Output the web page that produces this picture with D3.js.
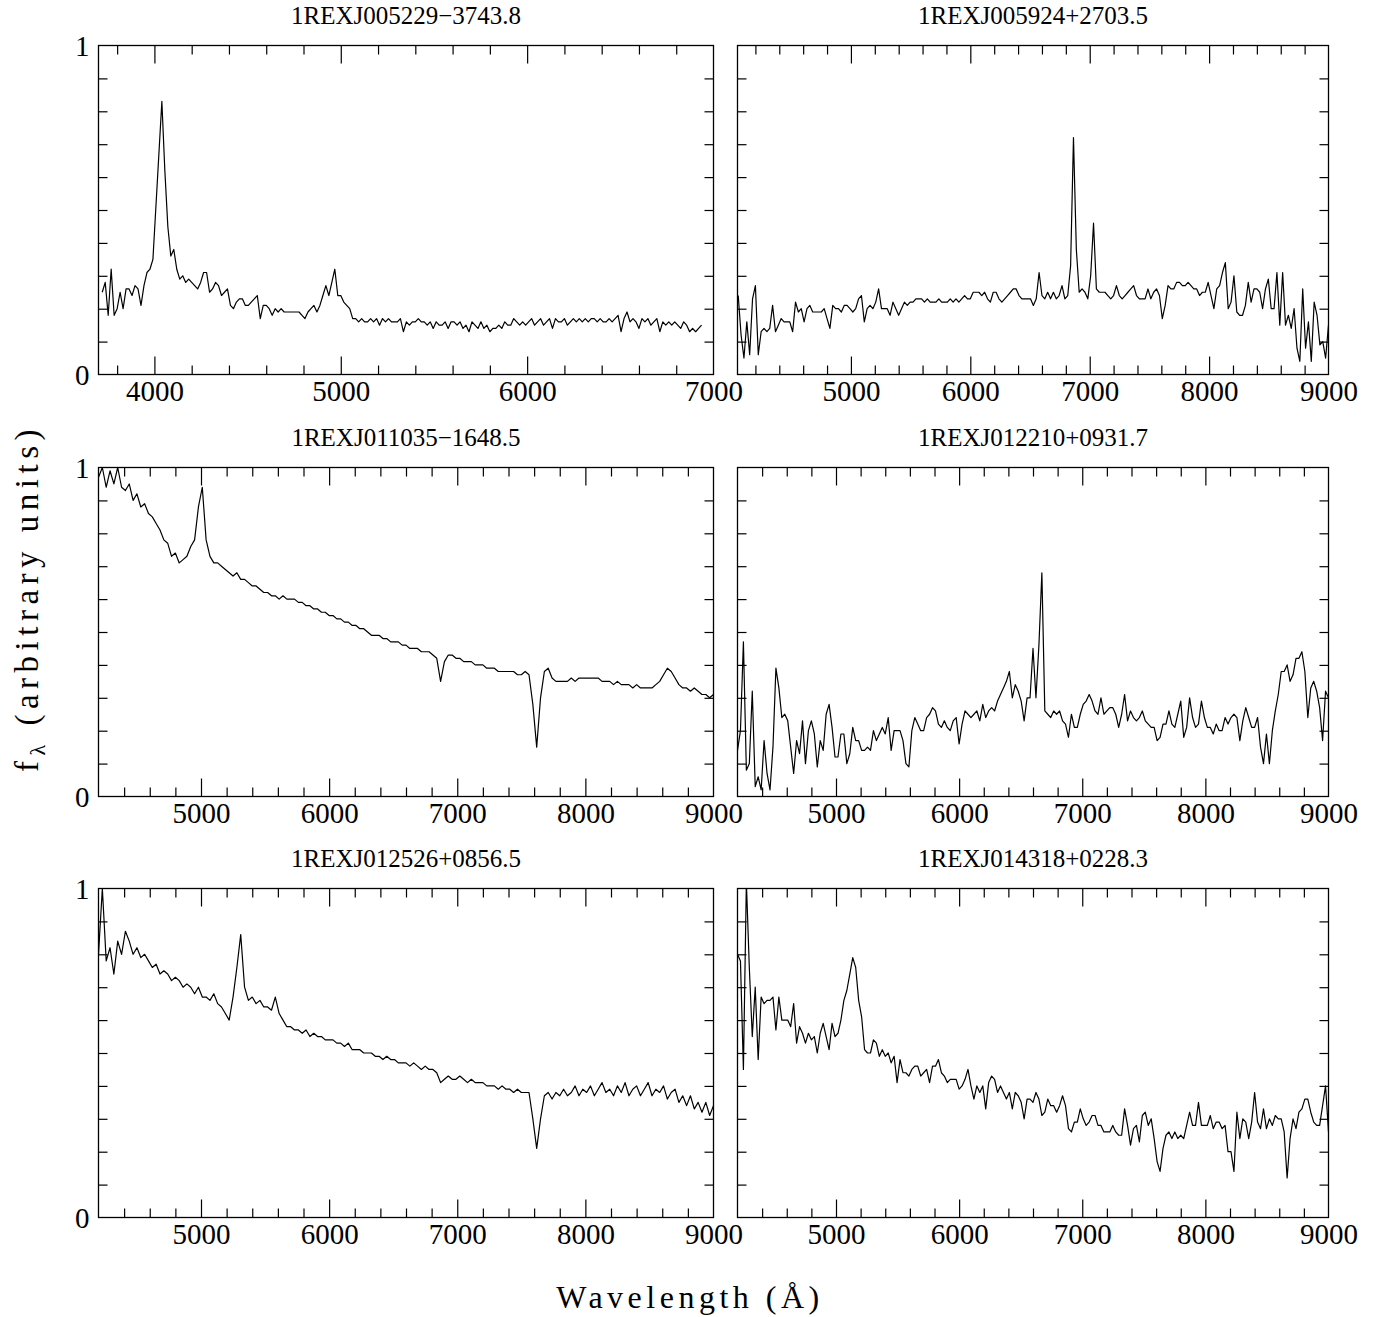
<!DOCTYPE html>
<html lang="en">
<head>
<meta charset="utf-8">
<title>1REX spectra</title>
<style>
  body { margin: 0; background: #fff; }
  svg text { font-family: "Liberation Serif", "DejaVu Serif", serif; fill: #000; }
</style>
</head>
<body>
<svg width="1390" height="1317"></svg>
<script src="https://cdn.jsdelivr.net/npm/d3@7/dist/d3.min.js"></script>
<script>
// panel titles (source names)
const titles = [
  '1REXJ005229\u22123743.8', '1REXJ005924+2703.5',
  '1REXJ011035\u22121648.5', '1REXJ012210+0931.7',
  '1REXJ012526+0856.5', '1REXJ014318+0228.3'
];
// wavelength range of each panel (Angstrom)
const x_domains = [[3700, 7000], [4050, 9000], [4200, 9000], [4200, 9000], [4200, 9000], [4200, 9000]];
const x_labels = [
  [4000, 5000, 6000, 7000], [5000, 6000, 7000, 8000, 9000],
  [5000, 6000, 7000, 8000, 9000], [5000, 6000, 7000, 8000, 9000],
  [5000, 6000, 7000, 8000, 9000], [5000, 6000, 7000, 8000, 9000]
];
const y_labels = [0, 1];
// first wavelength and sampling step of each spectrum
const wave_start = [3720, 4056, 4200, 4200, 4200, 4200];
const wave_step = [16, 24, 30, 24, 30, 24];

// normalised flux
const flux_1 = [
  0.25,0.28,0.18,0.32,0.18,0.20,0.25,0.20,0.26,0.26,0.24,0.27,0.26,0.21,0.27,0.31,0.32,0.35,0.51,0.67,
  0.83,0.62,0.45,0.36,0.38,0.32,0.29,0.30,0.28,0.29,0.28,0.27,0.26,0.28,0.31,0.31,0.25,0.26,0.28,0.27,
  0.24,0.25,0.26,0.21,0.20,0.22,0.23,0.23,0.21,0.21,0.22,0.23,0.24,0.17,0.21,0.21,0.20,0.18,0.20,0.19,
  0.20,0.19,0.19,0.19,0.19,0.19,0.19,0.18,0.17,0.19,0.20,0.21,0.19,0.21,0.24,0.27,0.24,0.28,0.32,0.24,
  0.24,0.22,0.21,0.20,0.17,
  0.17,0.16,0.17,0.16,0.16,0.17,
  0.16,0.17,0.15,0.17,0.16,0.17,0.16,0.16,
  0.16,0.17,0.13,0.16,0.15,0.16,0.16,0.17,0.16,
  0.16,0.15,0.16,0.14,0.16,0.15,0.15,0.16,0.14,0.16,
  0.16,0.15,0.16,0.14,0.15,0.13,0.16,0.15,0.14,0.16,0.14,0.15,0.13,0.14,
  0.14,0.15,0.14,0.16,0.15,0.15,0.17,0.16,0.15,0.16,0.15,0.16,0.17,0.15,
  0.16,0.17,0.15,0.16,0.17,0.14,0.17,0.16,0.16,0.17,0.15,0.16,0.17,0.16,
  0.17,0.16,0.17,0.16,0.17,0.17,0.16,0.17,0.16,0.16,0.17,0.16,0.17,
  0.18,0.13,0.17,0.19,0.16,0.17,0.16,0.14,0.17,0.16,0.17,0.15,0.16,
  0.17,0.13,0.16,0.15,0.16,0.15,0.16,0.15,0.14,0.16,0.15,0.13,0.14,0.13,0.14,0.15
];
const flux_2 = [
  0.24,0.12,0.05,0.16,0.06,0.23,0.27,0.06,0.13,0.14,
  0.13,0.14,0.21,0.13,0.15,0.17,0.16,0.16,0.16,0.13,
  0.22,0.19,0.20,0.16,0.20,0.21,0.19,0.19,0.19,0.19,
  0.20,0.17,0.14,0.21,0.20,0.20,0.19,0.21,0.21,0.20,
  0.19,0.20,0.23,0.24,0.16,0.20,0.21,0.20,0.22,0.26,
  0.20,0.20,0.20,0.18,0.22,0.20,0.18,0.20,0.22,0.21,
  0.22,0.22,0.23,0.23,0.23,0.22,0.23,0.22,0.22,0.22,
  0.23,0.22,0.22,0.22,0.23,0.22,0.23,0.22,0.23,0.24,
  0.23,0.23,0.25,0.25,0.25,0.24,0.25,0.23,0.22,0.25,
  0.25,0.23,0.22,0.23,0.24,0.25,0.26,0.26,0.24,0.23,
  0.23,0.23,0.23,0.21,0.23,0.31,0.24,0.23,0.25,0.23,
  0.25,0.23,0.24,0.27,0.23,0.24,0.33,0.72,0.38,0.25,
  0.26,0.25,0.23,0.30,0.46,0.26,0.25,0.25,0.25,0.24,
  0.23,0.24,0.27,0.24,0.23,0.24,0.25,0.26,0.27,0.24,
  0.23,0.23,0.23,0.26,0.23,0.25,0.26,0.24,0.17,0.21,
  0.27,0.26,0.26,0.28,0.28,0.27,0.27,0.28,0.27,0.26,
  0.26,0.24,0.25,0.25,0.28,0.24,0.20,0.26,0.27,0.31,
  0.34,0.20,0.22,0.30,0.19,0.18,0.18,0.21,0.28,0.22,
  0.26,0.26,0.25,0.20,0.26,0.29,0.20,0.20,0.31,0.15,
  0.31,0.15,0.18,0.14,0.20,0.08,0.04,0.26,0.08,0.16,
  0.04,0.22,0.18,0.09,0.10,0.05,0.15
];
const flux_3 = [
  0.97,1.00,0.94,0.99,0.95,1.00,0.94,0.93,0.95,0.90,
  0.92,0.88,0.89,0.86,0.85,0.83,0.81,0.78,0.77,0.73,
  0.74,0.71,0.72,0.73,0.76,0.78,0.88,0.94,0.78,0.73,
  0.71,0.71,0.70,0.69,0.68,0.67,0.68,0.66,0.66,0.65,
  0.64,0.64,0.63,0.62,0.62,0.61,0.61,0.60,0.61,0.60,
  0.60,0.60,0.59,0.59,0.58,0.58,0.57,0.57,0.56,0.56,
  0.55,0.55,0.54,0.54,0.53,0.53,0.52,0.52,0.51,0.51,
  0.50,0.49,0.49,0.49,0.48,0.48,0.47,0.47,0.47,0.46,
  0.46,0.45,0.45,0.45,0.44,0.44,0.44,0.43,0.42,0.35,
  0.41,0.43,0.43,0.42,0.42,0.41,0.41,0.41,0.40,0.40,
  0.40,0.39,0.39,0.39,0.38,0.38,0.38,0.38,0.38,0.37,
  0.37,0.38,0.37,0.28,0.15,0.30,0.38,0.39,0.36,0.35,
  0.35,0.35,0.35,0.36,0.35,0.36,0.36,0.36,0.36,0.36,
  0.36,0.35,0.35,0.35,0.34,0.35,0.34,0.34,0.34,0.33,
  0.34,0.33,0.33,0.33,0.33,0.34,0.35,0.37,0.39,0.38,
  0.36,0.34,0.33,0.33,0.32,0.33,0.32,0.31,0.31,0.30,
  0.31
];
const flux_4 = [
  0.14,0.20,0.47,0.08,0.10,0.32,0.03,0.06,0.02,0.17,
  0.07,0.02,0.15,0.39,0.33,0.24,0.25,0.23,0.15,0.07,
  0.17,0.13,0.23,0.10,0.20,0.23,0.19,0.09,0.17,0.14,
  0.25,0.28,0.21,0.12,0.12,0.19,0.19,0.10,0.13,0.21,
  0.17,0.17,0.14,0.14,0.15,0.14,0.20,0.17,0.19,0.21,
  0.19,0.24,0.14,0.20,0.20,0.20,0.17,0.10,0.09,0.20,
  0.24,0.22,0.20,0.20,0.24,0.25,0.27,0.26,0.22,0.21,
  0.23,0.21,0.20,0.23,0.24,0.16,0.22,0.26,0.25,0.24,
  0.25,0.26,0.23,0.28,0.24,0.26,0.27,0.26,0.29,0.31,
  0.33,0.35,0.38,0.30,0.34,0.32,0.29,0.23,0.30,0.30,
  0.45,0.30,0.46,0.68,0.26,0.25,0.24,0.26,0.25,0.26,
  0.23,0.22,0.18,0.25,0.21,0.21,0.25,0.28,0.29,0.31,
  0.29,0.26,0.25,0.30,0.25,0.26,0.27,0.27,0.25,0.21,
  0.25,0.31,0.23,0.26,0.24,0.23,0.24,0.26,0.23,0.22,
  0.21,0.21,0.17,0.18,0.22,0.22,0.26,0.22,0.21,0.25,
  0.29,0.18,0.21,0.30,0.24,0.21,0.22,0.29,0.24,0.21,
  0.21,0.19,0.22,0.20,0.20,0.24,0.22,0.24,0.25,0.24,
  0.17,0.23,0.27,0.24,0.21,0.21,0.24,0.15,0.10,0.19,
  0.10,0.20,0.26,0.31,0.38,0.38,0.40,0.35,0.37,0.42,
  0.42,0.44,0.38,0.24,0.33,0.35,0.32,0.27,0.17,0.32,
  0.30
];
const flux_5 = [
  0.80,1.00,0.78,0.82,0.74,0.84,0.80,0.87,0.84,0.80,
  0.82,0.79,0.80,0.78,0.76,0.77,0.74,0.75,0.74,0.72,
  0.73,0.72,0.70,0.71,0.70,0.68,0.70,0.67,0.67,0.66,
  0.68,0.65,0.64,0.62,0.60,0.67,0.76,0.86,0.70,0.66,
  0.67,0.65,0.66,0.64,0.64,0.63,0.67,0.62,0.60,0.58,
  0.58,0.57,0.57,0.56,0.57,0.55,0.56,0.55,0.55,0.54,
  0.54,0.54,0.53,0.53,0.52,0.53,0.51,0.51,0.51,0.50,
  0.50,0.50,0.49,0.49,0.48,0.49,0.48,0.48,0.47,0.47,
  0.47,0.46,0.47,0.46,0.45,0.46,0.45,0.45,0.44,0.41,
  0.42,0.43,0.42,0.42,0.43,0.42,0.41,0.42,0.41,0.41,
  0.41,0.40,0.40,0.40,0.39,0.40,0.39,0.39,0.38,0.39,
  0.38,0.38,0.38,0.30,0.21,0.30,0.37,0.38,0.36,0.38,
  0.37,0.39,0.37,0.38,0.40,0.37,0.39,0.38,0.40,0.37,
  0.39,0.41,0.38,0.39,0.37,0.40,0.38,0.41,0.37,0.39,
  0.40,0.37,0.39,0.41,0.37,0.39,0.38,0.40,0.36,0.38,
  0.39,0.35,0.37,0.34,0.37,0.33,0.35,0.32,0.35,0.31,
  0.34
];
const flux_6 = [
  0.80,0.78,0.45,1.02,0.76,0.55,0.70,0.48,0.67,0.65,
  0.66,0.66,0.67,0.57,0.67,0.60,0.60,0.60,0.58,0.65,
  0.53,0.58,0.56,0.53,0.56,0.54,0.55,0.50,0.56,0.59,
  0.55,0.51,0.59,0.55,0.56,0.60,0.66,0.69,0.74,0.79,
  0.76,0.66,0.61,0.51,0.50,0.50,0.54,0.53,0.49,0.51,
  0.49,0.50,0.47,0.49,0.41,0.48,0.44,0.44,0.43,0.45,
  0.46,0.46,0.43,0.44,0.45,0.41,0.46,0.46,0.48,0.44,
  0.43,0.41,0.42,0.42,0.42,0.39,0.40,0.42,0.45,0.40,
  0.36,0.40,0.38,0.40,0.33,0.41,0.43,0.42,0.38,0.40,
  0.38,0.36,0.38,0.33,0.38,0.37,0.35,0.30,0.36,0.36,
  0.35,0.38,0.36,0.31,0.32,0.36,0.34,0.34,0.32,0.34,
  0.37,0.34,0.27,0.26,0.29,0.29,0.33,0.30,0.28,0.29,
  0.31,0.31,0.28,0.28,0.26,0.26,0.26,0.28,0.26,0.25,
  0.25,0.33,0.28,0.22,0.27,0.28,0.23,0.31,0.32,0.28,
  0.30,0.24,0.17,0.14,0.21,0.25,0.26,0.24,0.26,0.24,
  0.25,0.24,0.28,0.32,0.28,0.28,0.35,0.28,0.28,0.28,
  0.31,0.27,0.29,0.29,0.27,0.28,0.20,0.20,0.14,0.32,
  0.24,0.30,0.29,0.24,0.29,0.38,0.29,0.27,0.33,0.27,
  0.30,0.28,0.31,0.30,0.30,0.26,0.12,0.24,0.30,0.27,
  0.32,0.33,0.36,0.36,0.32,0.29,0.28,0.28,0.34,0.40,
  0.26
];
const fluxes = [flux_1, flux_2, flux_3, flux_4, flux_5, flux_6];

const svg = d3.select('svg');

// panel layout
const col_x = [98.5, 737.5];
const col_w = [615, 591];
const row_y = [45.5, 467.5, 888.5];
const panel_h = 329;
const font_tick = 29;

fluxes.forEach((flux, i) => {
  const col = i % 2, row = Math.floor(i / 2);
  const px = col_x[col], py = row_y[row], w = col_w[col];
  const dom = x_domains[i];

  const x_scale = d3.scaleLinear().domain(dom).range([0, w]);
  const y_scale = d3.scaleLinear().domain([0, 1]).range([panel_h, 0]);

  const g = svg.append('g').attr('transform', `translate(${px},${py})`);

  // clip the spectrum to the frame
  g.append('clipPath').attr('id', 'clip' + i)
    .append('rect').attr('width', w).attr('height', panel_h);

  const points = flux.map((f, j) => [wave_start[i] + j * wave_step[i], f]);
  const line = d3.line()
    .x(d => x_scale(d[0]))
    .y(d => y_scale(d[1]));
  g.append('path')
    .datum(points)
    .attr('clip-path', `url(#clip${i})`)
    .attr('d', line)
    .attr('fill', 'none')
    .attr('stroke', '#000')
    .attr('stroke-width', 1.2)
    .attr('stroke-linejoin', 'round');

  // ticks: minor every 200 A, major every 1000 A, pointing inwards
  const minor = d3.range(Math.ceil(dom[0] / 200) * 200, dom[1], 200)
    .filter(v => v % 1000 !== 0 && v > dom[0]);
  const major = d3.range(Math.ceil(dom[0] / 1000) * 1000, dom[1], 1000)
    .filter(v => v > dom[0]);
  const y_minor = d3.range(1, 10).map(k => k / 10);

  const add_axis = (axis, tx, ty) => {
    const a = g.append('g').attr('transform', `translate(${tx},${ty})`).call(axis);
    a.select('.domain').remove();
    a.selectAll('line').attr('stroke', '#000').attr('stroke-width', 1.2);
    return a;
  };
  add_axis(d3.axisBottom(x_scale).tickValues(minor).tickSize(-9).tickFormat(''), 0, panel_h);
  add_axis(d3.axisBottom(x_scale).tickValues(major).tickSize(-18).tickFormat(''), 0, panel_h);
  add_axis(d3.axisTop(x_scale).tickValues(minor).tickSize(-9).tickFormat(''), 0, 0);
  add_axis(d3.axisTop(x_scale).tickValues(major).tickSize(-18).tickFormat(''), 0, 0);
  add_axis(d3.axisLeft(y_scale).tickValues(y_minor).tickSize(-9).tickFormat(''), 0, 0);
  add_axis(d3.axisRight(y_scale).tickValues(y_minor).tickSize(-9).tickFormat(''), w, 0);

  // tick labels
  const xl = add_axis(d3.axisBottom(x_scale).tickValues(x_labels[i]).tickSize(0).tickPadding(6)
    .tickFormat(d3.format('d')), 0, panel_h);
  xl.selectAll('text').attr('font-size', font_tick).attr('font-family', null);
  if (col === 0) {
    const yl = add_axis(d3.axisLeft(y_scale).tickValues(y_labels).tickSize(0).tickPadding(9)
      .tickFormat(d3.format('d')), 0, 0);
    yl.selectAll('text').attr('font-size', font_tick).attr('font-family', null).attr('dy', '0.35em');
  }

  // frame
  g.append('rect')
    .attr('width', w).attr('height', panel_h)
    .attr('fill', 'none').attr('stroke', '#000').attr('stroke-width', 1.3);

  // title
  g.append('text')
    .attr('x', w / 2).attr('y', -22)
    .attr('text-anchor', 'middle')
    .attr('font-size', 25)
    .text(titles[i]);
});

// axis titles
svg.append('text')
  .attr('x', 690).attr('y', 1308)
  .attr('text-anchor', 'middle')
  .attr('font-size', 32)
  .attr('letter-spacing', 4.5)
  .text('Wavelength (\u00c5)');

const ytitle = svg.append('text')
  .attr('transform', 'translate(38,598) rotate(-90)')
  .attr('text-anchor', 'middle')
  .attr('font-size', 33)
  .attr('letter-spacing', 5.5);
ytitle.append('tspan').text('f');
ytitle.append('tspan').attr('font-size', 22).attr('dy', 7).text('\u03bb');
ytitle.append('tspan').attr('dy', -7).text(' (arbitrary units)');
</script>
</body>
</html>
